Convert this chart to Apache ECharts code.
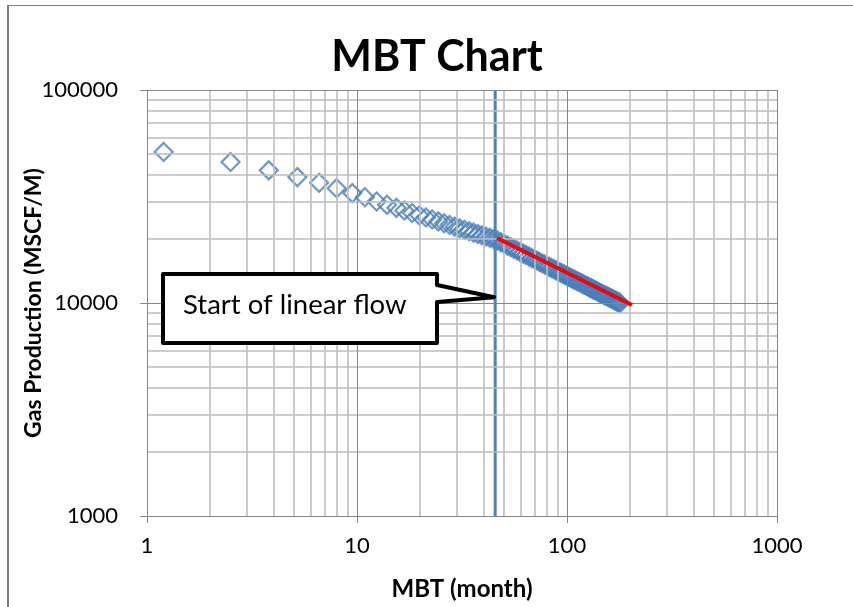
<!DOCTYPE html>
<html>
<head>
<meta charset="utf-8">
<script src="https://cdn.jsdelivr.net/npm/echarts@6/dist/echarts.min.js"></script>
<style>
  html, body { margin: 0; padding: 0; background: #ffffff; }
  #chart { width: 853px; height: 607px; }
</style>
</head>
<body>
<div id="chart"></div>
<script>
// Material balance time (months) and monthly gas rate (MSCF/M)
const mbt = [1.2, 2.5, 3.8, 5.2, 6.6, 8.0, 9.5, 10.9, 12.4, 13.9, 15.4, 16.8,
  18.3, 19.8, 21.3, 22.8, 24.4, 26.0, 27.6, 29.2, 30.8, 32.5, 34.2, 35.9, 37.6, 39.3, 41.1, 42.9, 44.7, 46.5,
  48.3, 50.2, 52.1, 54.0, 55.9, 57.9, 59.9, 61.9, 63.9, 65.9, 67.9, 69.9, 71.9,
  74.0, 76.1, 78.2, 80.3, 82.4, 84.5, 86.6, 88.7, 90.8, 92.9, 95.0, 97.1, 99.2, 101.3, 103.4, 105.5,
  107.6, 109.7, 111.8, 113.9, 116.0, 118.1, 120.2, 122.3, 124.4, 126.5, 128.6, 130.7, 132.8, 134.9,
  137.0, 139.1, 141.2, 143.3, 145.4, 147.5, 149.6, 151.7, 153.8, 155.9, 158.0, 160.1, 162.2, 164.3,
  166.4, 168.5, 170.6, 172.7, 174.8, 176.9, 179.0];
const gasRate = [51200, 45900, 41950, 39000, 36700, 34600, 32800, 31400, 29950, 28900, 27970, 27170,
  26440, 25800, 25210, 24680, 24160, 23680, 23240, 22830, 22450, 22080, 21730, 21400, 21090, 20800, 20510, 20230, 19970, 19690,
  19320, 18950, 18600, 18270, 17950, 17640, 17340, 17060, 16790, 16530, 16280, 16050, 15820,
  15590, 15370, 15170, 14960, 14770, 14580, 14400, 14230, 14060, 13900, 13750, 13600, 13450, 13310, 13180, 13040,
  12910, 12790, 12670, 12550, 12440, 12330, 12220, 12110, 12010, 11900, 11810, 11710, 11620, 11530,
  11440, 11350, 11260, 11180, 11100, 11020, 10940, 10860, 10790, 10720, 10650, 10580, 10510, 10440,
  10370, 10310, 10240, 10180, 10120, 10060, 10000];

// Half-slope trend line through the linear-flow period
const trendMbt = [46.4, 204];
const trendRate = [20200, 9790];

// Start of linear flow (month)
const linearFlowStart = 45.5;

// Axis decades and their labels
const xTickValues = [1, 10, 100, 1000];
const xTickLabels = ['1', '10', '100', '1000'];
const yTickValues = [1000, 10000, 100000];
const yTickLabels = ['1000', '10000', '100000'];

const calloutText = 'Start of linear flow';
const calloutRate = 10650;

const FONT = 'Lato, "Open Sans", sans-serif';

// Minor gridlines at 2..9 times each decade
function minorValues(decades) {
  const out = [];
  for (let i = 0; i < decades.length - 1; i++) {
    for (let k = 2; k <= 9; k++) out.push(decades[i] * k);
  }
  return out;
}
const minorX = minorValues(xTickValues);
const minorY = minorValues(yTickValues);

function labelFor(values, labels) {
  return function (v) {
    for (let i = 0; i < values.length; i++) {
      if (Math.abs(Math.log10(v) - Math.log10(values[i])) < 1e-6) return labels[i];
    }
    return '';
  };
}

function gridSeries(xs, ys, color, width) {
  return {
    type: 'line',
    data: [[xTickValues[0], yTickValues[0]]],
    showSymbol: false,
    symbol: 'none',
    lineStyle: { opacity: 0 },
    silent: true,
    z: 1,
    markLine: {
      silent: true,
      symbol: ['none', 'none'],
      animation: false,
      label: { show: false },
      lineStyle: { color: color, width: width, type: 'solid' },
      emphasis: { disabled: true },
      data: xs.map(v => ({ xAxis: v })).concat(ys.map(v => ({ yAxis: v })))
    }
  };
}

const chart = echarts.init(document.getElementById('chart'), null, { renderer: 'canvas' });

const axisGray = '#878787';

chart.setOption({
  animation: false,
  backgroundColor: '#ffffff',
  title: {
    text: 'MBT Chart',
    left: 432,
    textAlign: 'center',
    top: 31,
    textStyle: { fontFamily: FONT, fontWeight: 'bold', fontSize: 43, color: '#000' }
  },
  grid: { left: 147, right: 76, top: 90, bottom: 91, containLabel: false },
  xAxis: {
    type: 'log',
    logBase: 10,
    min: 1,
    max: 1000,
    name: 'MBT (month)',
    nameLocation: 'middle',
    nameGap: 61,
    nameMoveOverlap: false,
    nameTextStyle: { fontFamily: FONT, fontWeight: 'bold', fontSize: 24, color: '#000' },
    axisLine: { show: true, onZero: false, lineStyle: { color: axisGray, width: 1 } },
    axisTick: { show: true, length: 7, lineStyle: { color: axisGray, width: 1 } },
    axisLabel: { formatter: labelFor(xTickValues, xTickLabels), fontFamily: FONT, fontSize: 22, color: '#000', margin: 19 },
    splitLine: { show: false },
    minorTick: { show: false },
    minorSplitLine: { show: false }
  },
  yAxis: {
    type: 'log',
    logBase: 10,
    min: 1000,
    max: 100000,
    name: 'Gas Production (MSCF/M)',
    nameLocation: 'middle',
    nameGap: 102,
    nameMoveOverlap: false,
    nameTextStyle: { fontFamily: FONT, fontWeight: 'bold', fontSize: 23, color: '#000' },
    axisLine: { show: true, onZero: false, lineStyle: { color: axisGray, width: 1 } },
    axisTick: { show: true, length: 7, lineStyle: { color: axisGray, width: 1 } },
    axisLabel: { formatter: labelFor(yTickValues, yTickLabels), fontFamily: FONT, fontSize: 22, color: '#000', margin: 29 },
    splitLine: { show: false },
    minorTick: { show: false },
    minorSplitLine: { show: false }
  },
  series: [
    gridSeries(minorX, minorY, '#bdbdbd', 1.6),
    gridSeries(xTickValues, yTickValues, axisGray, 1),
    {
      name: 'Gas rate',
      type: 'scatter',
      data: mbt.map((x, i) => [x, gasRate[i]]),
      symbol: 'diamond',
      symbolSize: 18,
      itemStyle: { color: 'rgba(255,255,255,0)', borderColor: '#4a7ebb', borderWidth: 2.2 },
      z: 3
    },
    {
      name: 'Linear flow start',
      type: 'line',
      data: [[linearFlowStart, yTickValues[0]], [linearFlowStart, yTickValues[yTickValues.length - 1]]],
      symbol: 'none',
      lineStyle: { color: '#4f81bd', width: 3 },
      z: 4
    },
    {
      name: 'Trend',
      type: 'line',
      data: trendMbt.map((x, i) => [x, trendRate[i]]),
      symbol: 'none',
      lineStyle: { color: '#ff0000', width: 4 },
      z: 5
    }
  ]
});

// Callout box pointing at the linear-flow marker
const tip = chart.convertToPixel({ gridIndex: 0 }, [linearFlowStart, calloutRate]);
const bx0 = 163, by0 = 274, bx1 = 437, by1 = 343;
chart.setOption({
  graphic: [
    {
      type: 'polygon',
      z: 100,
      silent: true,
      shape: { points: [[bx0, by0], [bx1, by0], [bx1, 285], [tip[0] - 1, tip[1]], [bx1, 302], [bx1, by1], [bx0, by1]] },
      style: { fill: '#ffffff', stroke: '#000000', lineWidth: 4, lineJoin: 'round' }
    },
    {
      type: 'text',
      z: 101,
      silent: true,
      x: 183,
      y: 305,
      style: { text: calloutText, font: '27.5px ' + FONT, fill: '#000', verticalAlign: 'middle', align: 'left' }
    },
    {
      type: 'line',
      z: 102,
      silent: true,
      shape: { x1: 8, y1: 5, x2: 8, y2: 607 },
      style: { stroke: '#7f7f7f', lineWidth: 2 }
    },
    {
      type: 'line',
      z: 102,
      silent: true,
      shape: { x1: 7, y1: 5.5, x2: 853, y2: 5.5 },
      style: { stroke: '#7f7f7f', lineWidth: 1 }
    }
  ]
});
</script>
</body>
</html>
